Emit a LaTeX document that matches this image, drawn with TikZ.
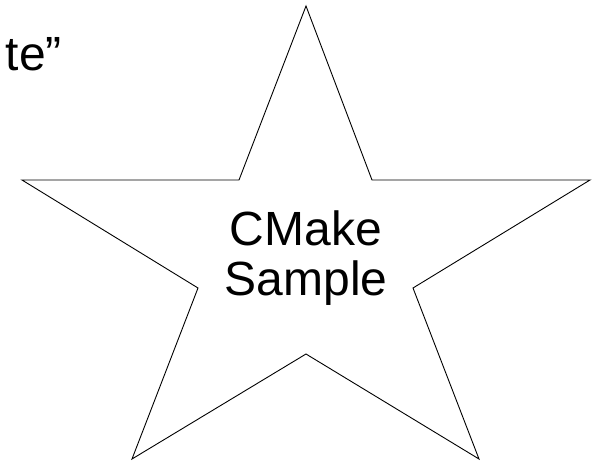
\documentclass[tikz,border=0pt]{standalone}
\usepackage{fontspec}
\setmainfont{Liberation Sans}
\begin{document}
\begin{tikzpicture}[x=1pt,y=-1pt,
  starline/.style={draw=black,line width=0.9pt,line join=miter},
  bigtext/.style={font=\fontsize{48}{50}\selectfont,inner sep=0pt}]
\useasboundingbox (0,0) rectangle (597,463);
\coordinate (apex) at (306,6);
\coordinate (itr) at (372,180);
\coordinate (rtip) at (590,180);
\coordinate (ir) at (413,288);
\coordinate (brt) at (479,459);
\coordinate (ib) at (306,354);
\coordinate (blt) at (132,459);
\coordinate (il) at (198,288);
\coordinate (ltip) at (22,180);
\coordinate (itl) at (239,180);
\draw[starline] (apex) -- (itr) -- (rtip) -- (ir) -- (brt) -- (ib) -- (blt) -- (il) -- (ltip) -- (itl) -- cycle;
\node[bigtext,anchor=base,align=center] (lbl) at (306,295) {CMake\\Sample};
\node[bigtext,anchor=base east] (frag) at (62,70) {te”};
\end{tikzpicture}
\end{document}
